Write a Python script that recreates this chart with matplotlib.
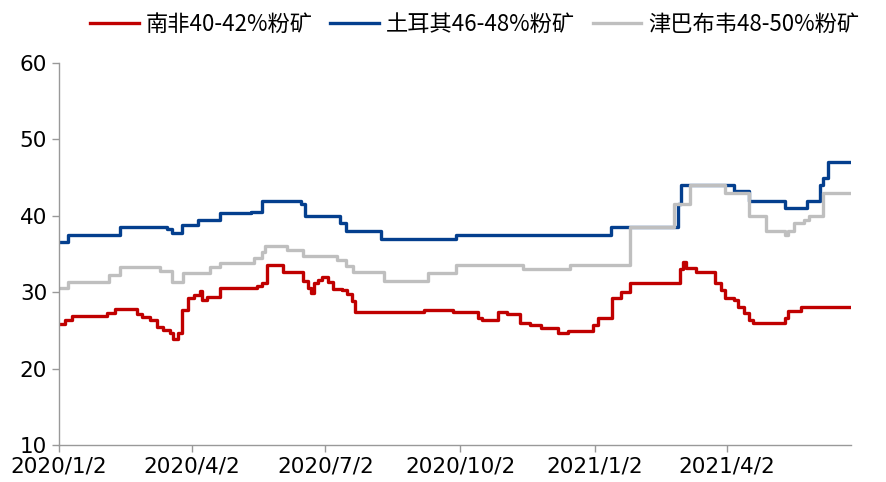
import matplotlib
matplotlib.use("Agg")
import matplotlib.pyplot as plt
import pandas as pd

# breakpoints of each price series (value holds until next date)
sa_dates = ["2020-01-02", "2020-01-06", "2020-01-11", "2020-02-04", "2020-02-09", "2020-02-24",
            "2020-02-28", "2020-03-04", "2020-03-09", "2020-03-13", "2020-03-18", "2020-03-20",
            "2020-03-23", "2020-03-26", "2020-03-30", "2020-04-03", "2020-04-07", "2020-04-09",
            "2020-04-12", "2020-04-21", "2020-05-16", "2020-05-20", "2020-05-23", "2020-06-03",
            "2020-06-17", "2020-06-20", "2020-06-22", "2020-06-24", "2020-06-27", "2020-06-30",
            "2020-07-04", "2020-07-07", "2020-07-13", "2020-07-17", "2020-07-20", "2020-07-22",
            "2020-09-07", "2020-09-27", "2020-10-14", "2020-10-17", "2020-10-28", "2020-11-03",
            "2020-11-12", "2020-11-19", "2020-11-26", "2020-12-08", "2020-12-15", "2021-01-01",
            "2021-01-04", "2021-01-14", "2021-01-20", "2021-01-26", "2021-03-01", "2021-03-03",
            "2021-03-05", "2021-03-12", "2021-03-25", "2021-03-29", "2021-04-01", "2021-04-07",
            "2021-04-10", "2021-04-14", "2021-04-17", "2021-04-20", "2021-05-12", "2021-05-14",
            "2021-05-23", "2021-06-26"]
sa_vals = [25.8, 26.4, 26.9, 27.3, 27.8, 27.1,
           26.8, 26.4, 25.5, 25.1, 24.7, 23.9,
           24.7, 27.7, 29.2, 29.6, 30.1, 29.0,
           29.4, 30.5, 30.8, 31.2, 33.6, 32.6,
           31.5, 30.6, 29.9, 31.2, 31.6, 32.0,
           31.3, 30.4, 30.3, 29.8, 28.8, 27.4,
           27.7, 27.4, 26.6, 26.4, 27.4, 27.2,
           26.0, 25.7, 25.3, 24.7, 24.9, 25.7,
           26.6, 29.2, 30.0, 31.2, 33.0, 34.0,
           33.2, 32.6, 31.2, 30.3, 29.2, 29.0,
           28.1, 27.3, 26.4, 26.0, 26.6, 27.6,
           28.0, 28.0]

tr_dates = ["2020-01-02", "2020-01-08", "2020-02-13", "2020-03-16", "2020-03-19", "2020-03-26",
            "2020-04-06", "2020-04-21", "2020-05-12", "2020-05-20", "2020-06-15", "2020-06-18",
            "2020-07-12", "2020-07-16", "2020-08-09", "2020-09-29", "2021-01-13", "2021-02-28",
            "2021-03-02", "2021-04-07", "2021-04-17", "2021-05-12", "2021-05-27", "2021-06-05",
            "2021-06-07", "2021-06-10", "2021-06-26"]
tr_vals = [36.6, 37.5, 38.5, 38.3, 37.8, 38.8,
           39.5, 40.3, 40.5, 42.0, 41.5, 40.0,
           39.0, 38.0, 37.0, 37.5, 38.5, 41.5,
           44.0, 43.2, 42.0, 41.0, 42.0, 44.0,
           45.0, 47.0, 47.0]

zw_dates = ["2020-01-02", "2020-01-08", "2020-02-05", "2020-02-13", "2020-03-11", "2020-03-19",
            "2020-03-27", "2020-04-14", "2020-04-21", "2020-05-14", "2020-05-20", "2020-05-22",
            "2020-06-06", "2020-06-17", "2020-07-10", "2020-07-16", "2020-07-21", "2020-08-11",
            "2020-09-10", "2020-09-29", "2020-11-14", "2020-12-16", "2021-01-26", "2021-02-25",
            "2021-03-08", "2021-04-01", "2021-04-17", "2021-04-29", "2021-05-12", "2021-05-14",
            "2021-05-18", "2021-05-25", "2021-05-28", "2021-06-07", "2021-06-26"]
zw_vals = [30.5, 31.3, 32.3, 33.3, 32.8, 31.3,
           32.5, 33.3, 33.8, 34.5, 35.2, 36.0,
           35.5, 34.8, 34.2, 33.4, 32.6, 31.5,
           32.5, 33.5, 33.0, 33.5, 38.5, 41.5,
           44.0, 43.0, 40.0, 38.0, 37.5, 38.0,
           39.0, 39.5, 40.0, 43.0, 43.0]

names = ["南非40-42%粉矿", "土耳其46-48%粉矿", "津巴布韦48-50%粉矿"]
colors = ["#C00000", "#043F8E", "#BFBFBF"]

tick_dates = ["2020-01-02", "2020-04-02", "2020-07-02", "2020-10-02", "2021-01-02", "2021-04-02"]
tick_labels = ["2020/1/2", "2020/4/2", "2020/7/2", "2020/10/2", "2021/1/2", "2021/4/2"]

fig = plt.figure(figsize=(8.87, 4.82), dpi=100)
ax = fig.add_axes([0.0665, 0.0768, 0.8929, 0.7925])

series = [(sa_dates, sa_vals), (tr_dates, tr_vals), (zw_dates, zw_vals)]
for (d, v), name, c in zip(series, names, colors):
    ax.plot(pd.to_datetime(d), v, drawstyle="steps-post", color=c, lw=2.4, label=name)

ax.set_ylim(10, 60)
ax.set_yticks([10, 20, 30, 40, 50, 60])
ax.set_xlim(pd.Timestamp("2020-01-02"), pd.Timestamp("2021-06-26"))
ax.set_xticks(pd.to_datetime(tick_dates))
ax.set_xticklabels(tick_labels)

for s in ["top", "right"]:
    ax.spines[s].set_visible(False)
for s in ["left", "bottom"]:
    ax.spines[s].set_color("#999999")
    ax.spines[s].set_linewidth(1.0)
ax.tick_params(axis="both", colors="#999999", length=5, width=1.0, direction="out",
               labelcolor="black", labelsize=15.5)

fig.legend(loc="upper center", bbox_to_anchor=(0.535, 1.015), ncol=3, frameon=False,
           handlelength=2.2, handletextpad=0.3, columnspacing=0.8,
           prop={"family": ["Noto Sans CJK SC", "DejaVu Sans"], "size": 16})

fig.savefig("out.png", dpi=100)
